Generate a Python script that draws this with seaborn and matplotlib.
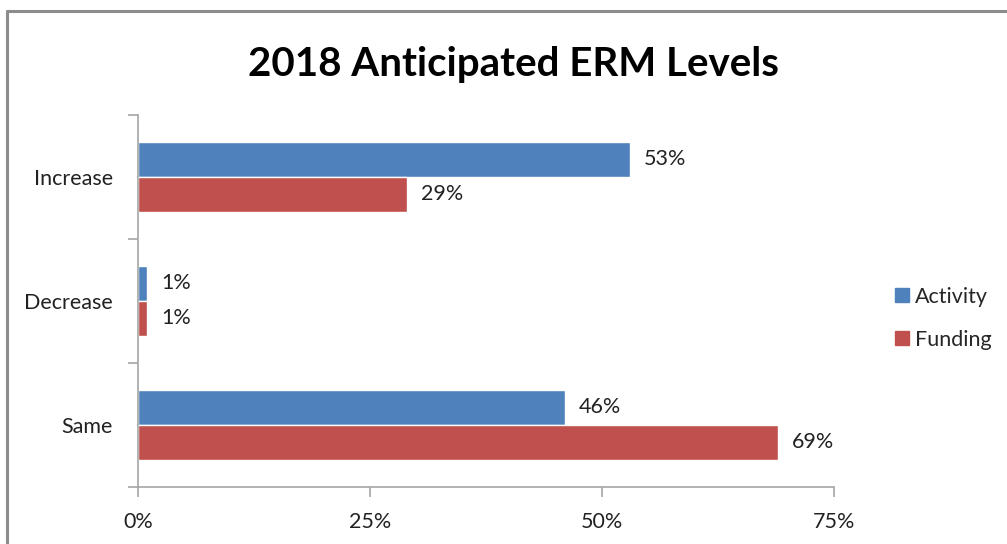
import pandas as pd
import matplotlib.pyplot as plt
import seaborn as sns
from matplotlib.lines import Line2D
from matplotlib.ticker import FixedLocator, PercentFormatter

# Chart values
categories = ['Increase', 'Decrease', 'Same']
activity = [53, 1, 46]
funding = [29, 1, 69]
series = ['Activity', 'Funding']
colors = ['#4F81BD', '#C0504D']

df = pd.DataFrame({
    'Level': categories * 2,
    'Percent': activity + funding,
    'Series': [series[0]] * 3 + [series[1]] * 3,
})

sns.set_style("white")
plt.rcParams['font.family'] = ['Lato', 'DejaVu Sans']

fig = plt.figure(figsize=(10.07, 5.44), dpi=100)
ax = fig.add_axes([0.137, 0.105, 0.691, 0.684])

sns.barplot(data=df, x='Percent', y='Level', hue='Series', order=categories,
            hue_order=series, palette=colors, orient='h', width=0.56,
            saturation=1, ax=ax)

# Value labels next to the bars
for cont in ax.containers:
    ax.bar_label(cont, labels=[f"{v:.0f}%" for v in cont.datavalues],
                 padding=10, fontsize=15.5, color='#222222')

ax.set_xlim(0, 75)
ax.set_ylim(2.5, -0.5)
ax.set_xticks([0, 25, 50, 75])
ax.xaxis.set_major_formatter(PercentFormatter(decimals=0))
ax.set_xlabel('')
ax.set_ylabel('')

# Category ticks sit on the boundaries, labels in the middle
ax.yaxis.set_minor_locator(FixedLocator([-0.5, 0.5, 1.5, 2.5]))
ax.tick_params(axis='y', which='major', length=0, pad=18, labelsize=15.5, labelcolor='#222222')
ax.tick_params(axis='y', which='minor', left=True, length=7, width=1.2, color='#A6A6A6', direction='out')
ax.tick_params(axis='x', which='major', bottom=True, length=7, width=1.2, color='#A6A6A6',
               direction='out', pad=11, labelsize=15.5, labelcolor='#222222')

for side in ['top', 'right']:
    ax.spines[side].set_visible(False)
for side in ['left', 'bottom']:
    ax.spines[side].set_color('#A6A6A6')
    ax.spines[side].set_linewidth(1.2)

# Legend on the right
handles = [Line2D([0], [0], marker='s', linestyle='', markersize=10,
                  markerfacecolor=c, markeredgecolor=c) for c in colors]
ax.legend(handles, series, loc='center left', bbox_to_anchor=(0.866, 0.415),
          bbox_transform=fig.transFigure, frameon=False, fontsize=15.5,
          handletextpad=0.1, labelspacing=1.05, handlelength=1.0)

fig.suptitle('2018 Anticipated ERM Levels', x=0.51, y=0.915, fontsize=29,
             fontweight='bold', color='black')

# Chart area border (top and left edges visible)
fig.add_artist(Line2D([0.007, 1.0], [0.98, 0.98], color='#8C8C8C', linewidth=2.2,
                      transform=fig.transFigure))
fig.add_artist(Line2D([0.007, 0.007], [0.0, 0.98], color='#8C8C8C', linewidth=2.2,
                      transform=fig.transFigure))

plt.savefig('out.png', dpi=100)
